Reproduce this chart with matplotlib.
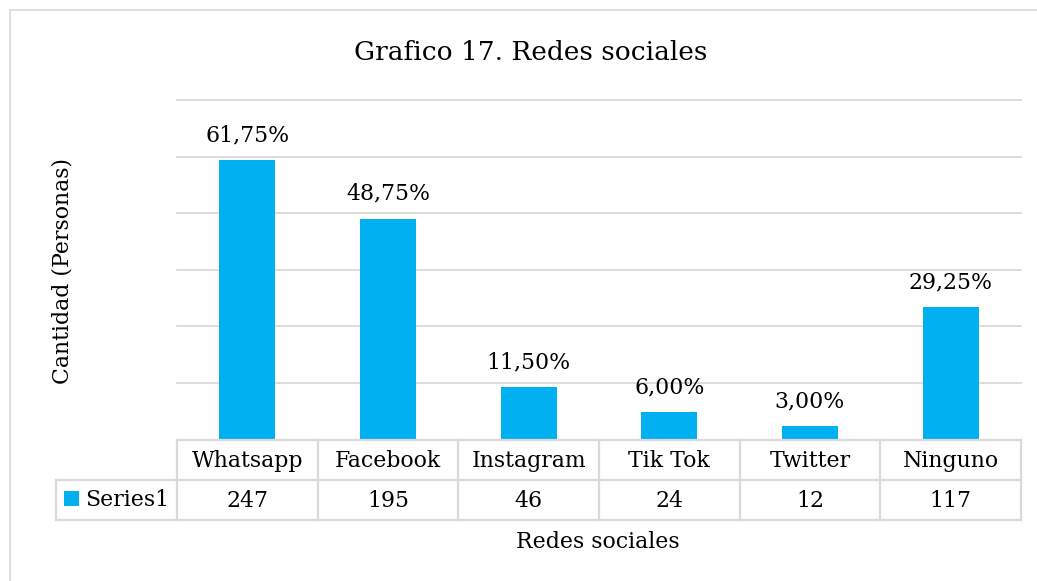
import matplotlib
matplotlib.use("Agg")
import matplotlib.pyplot as plt
from matplotlib.transforms import blended_transform_factory
from matplotlib.lines import Line2D
from matplotlib.patches import Rectangle

categories = ["Whatsapp", "Facebook", "Instagram", "Tik Tok", "Twitter", "Ninguno"]
values = [247, 195, 46, 24, 12, 117]
pct_labels = ["61,75%", "48,75%", "11,50%", "6,00%", "3,00%", "29,25%"]
series_name = "Series1"
title = "Grafico 17. Redes sociales"
xlabel = "Redes sociales"
ylabel = "Cantidad (Personas)"

W, H = 1037, 581
FONT = "DejaVu Serif"
BAR = "#00B0F0"
GRID = "#D9D9D9"
FS = 15.8

fig = plt.figure(figsize=(W / 100, H / 100), dpi=100)

def fy(y):
    return 1 - y / H

def fx(x):
    return x / W

# outer chart border
fig.add_artist(Rectangle((fx(10), fy(700)), fx(1100), fy(10) - fy(700),
                         transform=fig.transFigure, fill=False, edgecolor=GRID, lw=1.2))

left, right, top, bottom = 177, 1021, 100, 439.5
ax = fig.add_axes([fx(left), fy(bottom), fx(right - left), (bottom - top) / H])
n = len(categories)
x = list(range(n))
ax.bar(x, values, width=0.4, color=BAR, zorder=3)
ax.set_xlim(-0.5, n - 0.5)
ax.set_ylim(0, 300)
ax.set_yticks(range(0, 301, 50))
ax.yaxis.grid(True, color=GRID, lw=1.3)
for gl in ax.get_ygridlines():
    gl.set_clip_on(False)
ax.set_axisbelow(True)
ax.tick_params(left=False, bottom=False, labelleft=False, labelbottom=False)
for s in ax.spines.values():
    s.set_visible(False)

for xi, v, lab in zip(x, values, pct_labels):
    ax.annotate(lab, (xi, v), xytext=(0, 10), textcoords="offset points",
                ha="center", va="bottom", fontsize=FS, family=FONT, color="#000000")

# data table
tr = blended_transform_factory(ax.transData, fig.transFigure)
row1_top, row1_bot, row2_bot = 439.5, 480, 519.5
lc = dict(color=GRID, lw=1.6, solid_capstyle="projecting")
fig.add_artist(Line2D([-0.5, n - 0.5], [fy(row1_top)] * 2, transform=tr, **lc))
for yy in (row1_bot, row2_bot):
    fig.add_artist(Line2D([fx(56), fx(right)], [fy(yy)] * 2, transform=fig.transFigure, **lc))
for b in range(n + 1):
    fig.add_artist(Line2D([b - 0.5, b - 0.5], [fy(row1_top), fy(row2_bot)], transform=tr, **lc))
fig.add_artist(Line2D([fx(56), fx(56)], [fy(row1_bot), fy(row2_bot)], transform=fig.transFigure, **lc))

for xi, c, v in zip(x, categories, values):
    fig.text(xi, fy((row1_top + row1_bot) / 2 + 1), c, transform=tr, ha="center", va="center",
             fontsize=FS, family=FONT)
    fig.text(xi, fy((row1_bot + row2_bot) / 2 + 1), str(v), transform=tr, ha="center", va="center",
             fontsize=FS, family=FONT)

fig.add_artist(Rectangle((fx(64), fy(506)), fx(15), fy(491) - fy(506),
                         transform=fig.transFigure, color=BAR, lw=0))
fig.text(fx(85), fy(500), series_name, ha="left", va="center", fontsize=FS, family=FONT)

fig.text(fx(531), fy(52), title, ha="center", va="center", fontsize=19, family=FONT)
fig.text(fx(598), fy(542), xlabel, ha="center", va="center", fontsize=FS, family=FONT)
fig.text(fx(63), fy(271), ylabel, ha="center", va="center", rotation=90, fontsize=FS, family=FONT)

fig.savefig("out.png", dpi=100)
